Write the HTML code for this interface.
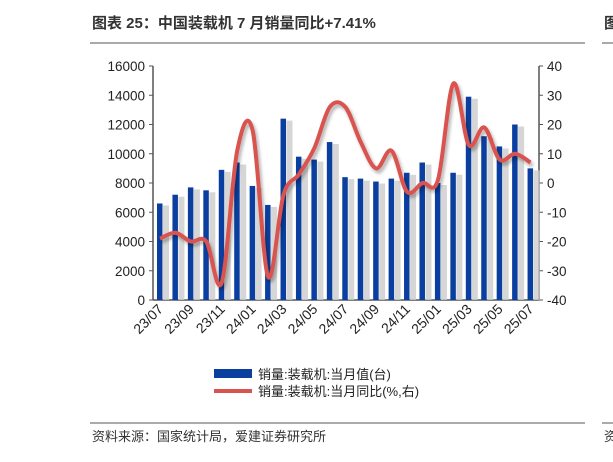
<!DOCTYPE html><html><head><meta charset="utf-8"><style>body{margin:0;background:#fff;width:613px;height:457px;overflow:hidden;font-family:"Liberation Sans","Noto Sans CJK SC",sans-serif}</style></head><body>
<svg width="613" height="457" xmlns="http://www.w3.org/2000/svg" font-family="Liberation Sans, Noto Sans CJK SC, sans-serif">
<defs><filter id="sh" x="-20%" y="-20%" width="140%" height="140%"><feDropShadow dx="2" dy="3" stdDeviation="1.5" flood-color="#000" flood-opacity="0.3"/></filter></defs>
<text x="92" y="28" font-size="15" font-weight="bold" fill="#333">图表 25：中国装载机 7 月销量同比+7.41%</text>
<text x="604" y="28" font-size="15" font-weight="bold" fill="#333">图</text>
<line x1="90" y1="43" x2="585" y2="43" stroke="#555" stroke-width="1"/>
<line x1="602" y1="43" x2="613" y2="43" stroke="#555" stroke-width="1"/>
<g id="chart"></g>
<line x1="90" y1="423" x2="585" y2="423" stroke="#555" stroke-width="1"/>
<line x1="602" y1="423" x2="613" y2="423" stroke="#555" stroke-width="1"/>
<text x="92" y="441" font-size="13" fill="#333">资料来源：国家统计局，爱建证券研究所</text>
<text x="604" y="441" font-size="13" fill="#333">资</text>
<rect x="214" y="369" width="38" height="9" fill="#0a3fa0"/>
<text x="258" y="379" font-size="13" fill="#222">销量:装载机:当月值(台)</text>
<line x1="214" y1="391" x2="252" y2="391" stroke="#d9534f" stroke-width="4"/>
<text x="258" y="396" font-size="13" fill="#222">销量:装载机:当月同比(%,右)</text>
</svg>
<script>
const g=document.getElementById('chart');const NS='http://www.w3.org/2000/svg';
function el(t,a,txt){const e=document.createElementNS(NS,t);for(const k in a)e.setAttribute(k,a[k]);if(txt!==undefined)e.textContent=txt;g.appendChild(e);return e;}
const L=153,R=539,T=66,B=300;
const bars=[6600,7200,7700,7500,8900,9400,7800,6500,12400,9800,9600,10800,8400,8300,8100,8300,8700,9400,8000,8700,13900,11200,10500,12000,9000];
const pct=[-19,-17,-20,-20,-34,11,18,-32,-4,3,12,26,26,14,5,11,-3,0,1,34,13,19,8,10,7];
const step=15.44;const cx=i=>L+7+i*step;
el('line',{x1:L,y1:T,x2:L,y2:B,stroke:'#555','stroke-width':1.5});
el('line',{x1:R,y1:T,x2:R,y2:B,stroke:'#555','stroke-width':1.5});
el('line',{x1:L,y1:B,x2:R,y2:B,stroke:'#555','stroke-width':1.5});
for(let k=0;k<=8;k++){const y=B-k*(B-T)/8;
el('line',{x1:L-4,y1:y,x2:L,y2:y,stroke:'#555'});el('line',{x1:R,y1:y,x2:R+4,y2:y,stroke:'#555'});
el('text',{x:L-8,y:y+5,'font-size':13.5,'text-anchor':'end',fill:'#222'},String(k*2000));
el('text',{x:R+8,y:y+5,'font-size':13.5,fill:'#222'},String(-40+k*10));}
bars.forEach((v,i)=>{const h=v/16000*(B-T);
el('rect',{x:cx(i)+3,y:B-h+2,width:6,height:h-2,fill:'#ccc',opacity:0.8});
el('rect',{x:cx(i)-3,y:B-h,width:5.5,height:h,fill:'#0a3fa0'});});
const py=v=>B-(v+40)/80*(B-T);
const P=pct.map((v,i)=>[cx(i),py(v)]);
let d='M'+P[0][0]+','+P[0][1];
for(let i=0;i<P.length-1;i++){const p0=P[Math.max(0,i-1)],p1=P[i],p2=P[i+1],p3=P[Math.min(P.length-1,i+2)];
d+=` C${p1[0]+(p2[0]-p0[0])/6},${p1[1]+(p2[1]-p0[1])/6} ${p2[0]-(p3[0]-p1[0])/6},${p2[1]-(p3[1]-p1[1])/6} ${p2[0]},${p2[1]}`;}
el('path',{d:d,fill:'none',stroke:'#d9534f','stroke-width':4,filter:'url(#sh)'});
const labs=['23/07','23/09','23/11','24/01','24/03','24/05','24/07','24/09','24/11','25/01','25/03','25/05','25/07'];
labs.forEach((s,j)=>{const x=cx(j*2)+4,y=B+10;el('text',{x:x,y:y,'font-size':14,'text-anchor':'end',fill:'#222',transform:`rotate(-45 ${x} ${y})`},s);});
</script>
</body></html>
